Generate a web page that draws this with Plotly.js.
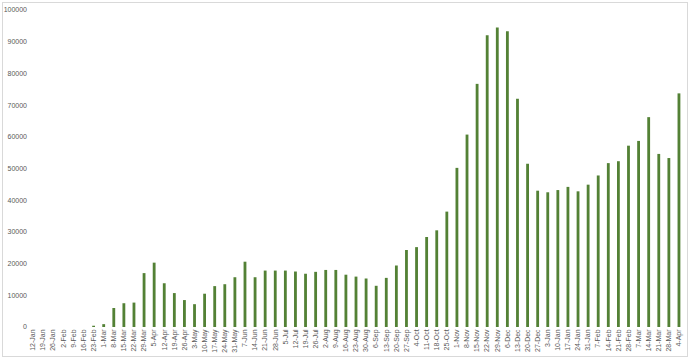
<!DOCTYPE html>
<html><head><meta charset="utf-8">
<script src="https://cdn.plot.ly/plotly-3.0.1.min.js"></script>
<style>html,body{margin:0;padding:0;background:#fff;}#wrap{position:relative;width:690px;height:361px;}#chart{width:690px;height:361px;}#frame{position:absolute;left:2px;top:2px;width:684px;height:353px;border:1px solid #d9d9d9;pointer-events:none;}</style>
</head><body>
<div id="wrap"><div id="chart"></div><div id="frame"></div></div>
<script>
const weeks = ["12-Jan","19-Jan","26-Jan","2-Feb","9-Feb","16-Feb","23-Feb","1-Mar","8-Mar","15-Mar","22-Mar","29-Mar","5-Apr","12-Apr","19-Apr","26-Apr","3-May","10-May","17-May","24-May","31-May","7-Jun","14-Jun","21-Jun","28-Jun","5-Jul","12-Jul","19-Jul","26-Jul","2-Aug","9-Aug","16-Aug","23-Aug","30-Aug","6-Sep","13-Sep","20-Sep","27-Sep","4-Oct","11-Oct","18-Oct","25-Oct","1-Nov","8-Nov","15-Nov","22-Nov","29-Nov","6-Dec","13-Dec","20-Dec","27-Dec","3-Jan","10-Jan","17-Jan","24-Jan","31-Jan","7-Feb","14-Feb","21-Feb","28-Feb","7-Mar","14-Mar","21-Mar","28-Mar","4-Apr"];
const values = [0,0,0,0,0,0,400,900,6000,7500,7700,17000,20300,13800,10700,8500,7200,10500,12900,13500,15700,20600,15700,17800,17800,17800,17500,16800,17400,18000,18000,16500,15900,15300,13000,15500,19400,24300,25200,28400,30500,36400,50200,60700,76700,92000,94500,93300,72000,51500,43000,42500,43200,44200,42800,44900,47800,51700,52300,57200,58700,66200,54600,53300,73700];
const yTicks = [0,10000,20000,30000,40000,50000,60000,70000,80000,90000,100000];
// make category labels unique (weeks repeat across years) while showing the same text
const xIdx = weeks.map((w,i)=>i);
Plotly.newPlot('chart',[{
  type:'bar', x:xIdx, y:values,
  marker:{color:'#538135', line:{width:0}},
  hoverinfo:'x+y'
}],{
  width:690,height:361,
  margin:{l:28,r:6,t:10,b:34},
  paper_bgcolor:'#fff',plot_bgcolor:'#fff',
  bargap:0.72,
  showlegend:false,
  font:{family:'Liberation Sans, Arial, sans-serif',size:7,color:'#595959'},
  xaxis:{type:'linear',range:[-0.5,weeks.length-0.5],tickmode:'array',tickvals:xIdx,ticktext:weeks,tickangle:-90,showgrid:false,zeroline:false,showline:false,ticks:'',tickfont:{size:7,color:'#595959'}},
  yaxis:{range:[0,100000],tickmode:'array',tickvals:yTicks,ticktext:yTicks.map(String),showgrid:false,zeroline:false,showline:false,ticks:'',tickfont:{size:7,color:'#595959'}}
},{displayModeBar:false,staticPlot:true});
</script>
</body></html>
